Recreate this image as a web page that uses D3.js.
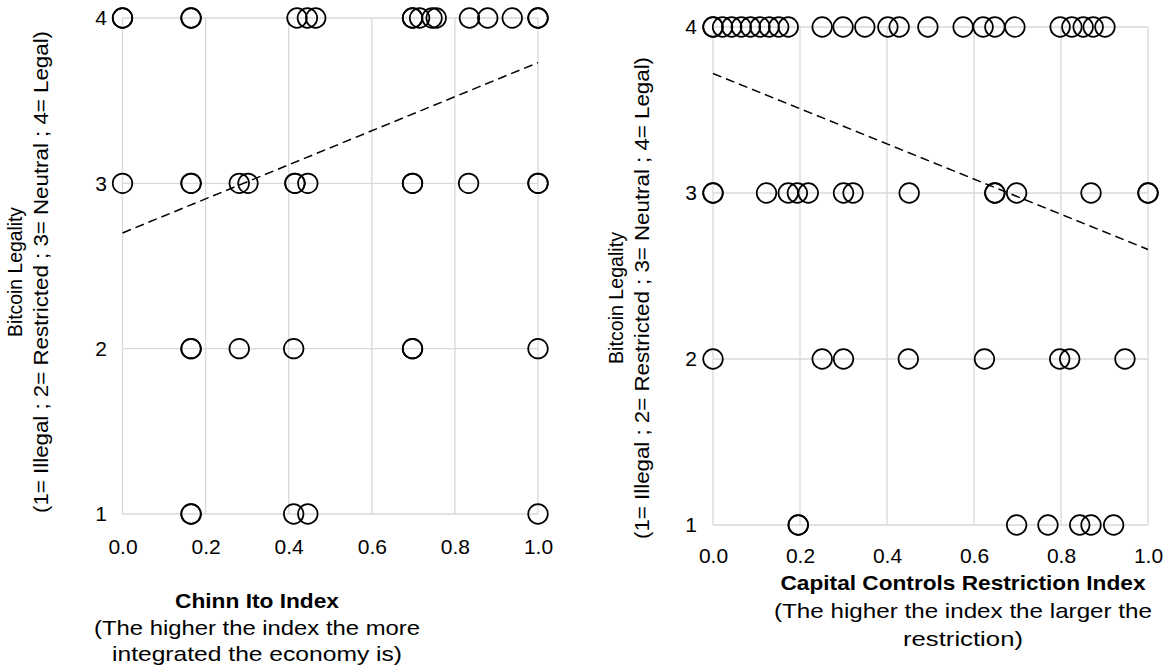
<!DOCTYPE html>
<html>
<head>
<meta charset="utf-8">
<script src="https://cdn.jsdelivr.net/npm/d3@7/dist/d3.min.js"></script>
<style>
  html, body { margin: 0; padding: 0; background: #fff; }
  svg { display: block; }
  text { font-family: "Liberation Sans", Arial, sans-serif; fill: #000; }
</style>
</head>
<body>
<svg id="chart" width="1167" height="667"></svg>
<script>
// ---------------- DATA ----------------
const yLevels = [1, 2, 3, 4];
const xTicks = [0, 0.2, 0.4, 0.6, 0.8, 1.0];

// Left panel: Chinn Ito Index values per legality level
const chinnLevel4 = [0, 0, 0.165, 0.165, 0.42, 0.445, 0.465, 0.698, 0.698, 0.715, 0.745, 0.755, 0.835, 0.879, 0.938, 1.0, 1.0];
const chinnLevel3 = [0, 0.165, 0.165, 0.281, 0.302, 0.415, 0.415, 0.446, 0.698, 0.698, 0.833, 1.0, 1.0];
const chinnLevel2 = [0.165, 0.165, 0.281, 0.412, 0.698, 0.698, 1.0];
const chinnLevel1 = [0.165, 0.165, 0.412, 0.446, 1.0];
const chinnTrendX = [0, 1];
const chinnTrendY = [2.70, 3.73];

// Right panel: Capital Controls Restriction Index per legality level
const capLevel4 = [0, 0, 0.022, 0.043, 0.065, 0.086, 0.108, 0.129, 0.151, 0.173, 0.251, 0.299, 0.349, 0.402, 0.428, 0.494, 0.575, 0.621, 0.648, 0.694, 0.798, 0.825, 0.851, 0.874, 0.901];
const capLevel3 = [0, 0, 0.123, 0.173, 0.194, 0.219, 0.30, 0.322, 0.451, 0.648, 0.648, 0.698, 0.869, 1.0, 1.0];
const capLevel2 = [0, 0.251, 0.30, 0.449, 0.624, 0.797, 0.82, 0.947];
const capLevel1 = [0.196, 0.196, 0.698, 0.77, 0.843, 0.869, 0.921];
const capTrendX = [0, 1];
const capTrendY = [3.72, 2.66];

const yTitle1 = "Bitcoin Legality";
const yTitle2 = "(1= Illegal ; 2= Restricted ; 3= Neutral ; 4= Legal)";
const leftXTitle = ["Chinn Ito Index", "(The higher the index the more", "integrated the economy is)"];
const rightXTitle = ["Capital Controls Restriction Index", "(The higher the index the larger the", "restriction)"];

// ---------------- DRAW ----------------
const svg = d3.select("#chart");

function toPoints(levels) {
  const pts = [];
  levels.forEach(([lvl, arr]) => arr.forEach(v => pts.push({x: v, y: lvl})));
  return pts;
}

function panel(cfg) {
  const x = d3.scaleLinear().domain([0, 1]).range([cfg.x0, cfg.x1]);
  const y = d3.scaleLinear().domain([1, 4]).range([cfg.yBottom, cfg.yTop]);
  const g = svg.append("g");

  // gridlines
  g.selectAll("line.vg").data(xTicks).join("line")
    .attr("x1", d => x(d)).attr("x2", d => x(d))
    .attr("y1", y(1)).attr("y2", y(4))
    .attr("stroke", "#d9d9d9").attr("stroke-width", 1.3);
  g.selectAll("line.hg").data(yLevels).join("line")
    .attr("x1", x(0)).attr("x2", x(1))
    .attr("y1", d => y(d)).attr("y2", d => y(d))
    .attr("stroke", "#d9d9d9").attr("stroke-width", 1.3);

  // axes (labels only)
  const xa = g.append("g").attr("transform", `translate(0,${cfg.xTickY})`)
    .call(d3.axisBottom(x).tickValues(xTicks).tickFormat(d3.format(".1f")).tickSize(0).tickPadding(0));
  xa.select(".domain").remove();
  xa.selectAll("text").attr("font-size", 21).attr("font-family", "Liberation Sans, Arial, sans-serif").attr("dy", "0.36em");

  const ya = g.append("g").attr("transform", `translate(${cfg.yTickX},0)`)
    .call(d3.axisLeft(y).tickValues(yLevels).tickFormat(d3.format("d")).tickSize(0).tickPadding(0));
  ya.select(".domain").remove();
  ya.selectAll("text").attr("font-size", 21).attr("font-family", "Liberation Sans, Arial, sans-serif").attr("text-anchor", "middle");

  // trend line
  const trend = cfg.trendX.map((v, i) => ({x: v, y: cfg.trendY[i]}));
  g.append("path").datum(trend)
    .attr("d", d3.line().x(d => x(d.x)).y(d => y(d.y)))
    .attr("fill", "none").attr("stroke", "#000").attr("stroke-width", 1.5)
    .attr("stroke-dasharray", "9,5");

  // points
  g.selectAll("circle.pt").data(cfg.points).join("circle")
    .attr("cx", d => x(d.x)).attr("cy", d => y(d.y)).attr("r", 9.8)
    .attr("fill", "none").attr("stroke", "#000").attr("stroke-width", 1.7);

  // y titles
  [yTitle1, yTitle2].forEach((t, i) => {
    svg.append("text")
      .attr("transform", `translate(${cfg.yTitleX[i]},${cfg.yTitleCY}) rotate(-90)`)
      .attr("text-anchor", "middle").attr("dominant-baseline", "central")
      .attr("font-size", 21)
      .attr("textLength", cfg.yTitleLen[i]).attr("lengthAdjust", "spacingAndGlyphs")
      .text(t);
  });
  // x titles
  cfg.xTitle.forEach((t, i) => {
    svg.append("text")
      .attr("x", cfg.xTitleCX).attr("y", cfg.xTitleY[i])
      .attr("text-anchor", "middle").attr("dominant-baseline", "central")
      .attr("font-size", 21).attr("font-weight", i === 0 ? "bold" : "normal")
      .attr("textLength", cfg.xTitleLen[i]).attr("lengthAdjust", "spacingAndGlyphs")
      .text(t);
  });
}

panel({
  x0: 122.5, x1: 538, yTop: 18, yBottom: 514,
  xTickY: 546, yTickX: 101,
  trendX: chinnTrendX, trendY: chinnTrendY,
  points: toPoints([[4, chinnLevel4], [3, chinnLevel3], [2, chinnLevel2], [1, chinnLevel1]]),
  yTitleX: [14, 40], yTitleCY: 272, yTitleLen: [130, 482],
  xTitle: leftXTitle, xTitleCX: 257, xTitleY: [600, 627, 653], xTitleLen: [164, 326, 290]
});

panel({
  x0: 713, x1: 1148, yTop: 27, yBottom: 525,
  xTickY: 555, yTickX: 691,
  trendX: capTrendX, trendY: capTrendY,
  points: toPoints([[4, capLevel4], [3, capLevel3], [2, capLevel2], [1, capLevel1]]),
  yTitleX: [615, 641], yTitleCY: 298, yTitleLen: [132, 482],
  xTitle: rightXTitle, xTitleCX: 963, xTitleY: [582, 610, 638], xTitleLen: [365, 378, 120]
});
</script>
</body>
</html>
